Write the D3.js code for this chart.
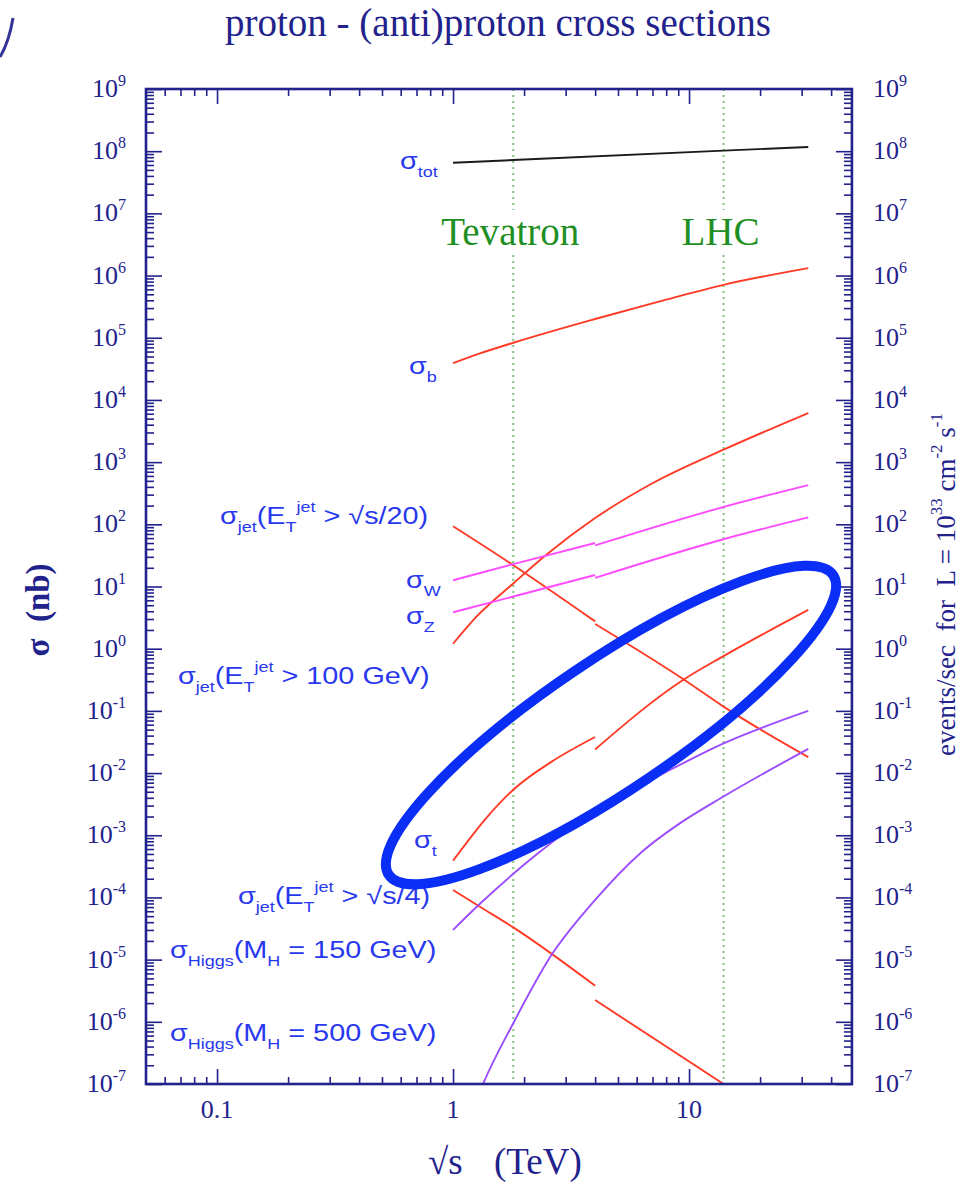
<!DOCTYPE html>
<html>
<head>
<meta charset="utf-8">
<script src="https://cdn.jsdelivr.net/npm/d3@7"></script>
<style>
body { margin: 0; background: #fff; }
svg { display: block; }
</style>
</head>
<body>
<script>
// sqrt(s) in TeV, sigma in nb
var totE = [1, 1.8, 14, 32];
var totSig = [6.5e7, 7.2e7, 1.02e8, 1.17e8];

var bE = [1, 1.3, 1.8, 4, 8, 14, 32];
var bSig = [3.9e4, 5.6e4, 8.3e4, 2.0e5, 4.1e5, 7.1e5, 1.32e6];

var jet20E_ppbar = [1, 1.8, 4];
var jet20Sig_ppbar = [93, 22, 2.75];
var jet20E_pp = [4, 9.5, 14, 32];
var jet20Sig_pp = [2.5, 0.32, 0.117, 0.018];

var jet100E = [1, 1.26, 1.8, 2.5, 4, 7, 14, 32];
var jet100Sig = [1.2, 3.3, 11.2, 33, 126, 457, 1585, 6170];

var wE_ppbar = [1, 1.8, 4];
var wSig_ppbar = [12.6, 22.9, 50];
var wE_pp = [4, 14, 32];
var wSig_pp = [45.7, 190, 427];

var zE_ppbar = [1, 1.8, 4];
var zSig_ppbar = [3.85, 6.9, 15.3];
var zE_pp = [4, 14, 32];
var zSig_pp = [13.8, 57.5, 129];

var tE_ppbar = [1, 1.4, 1.8, 2.6, 4];
var tSig_ppbar = [3.9e-4, 2.0e-3, 5.4e-3, 1.5e-2, 3.8e-2];
var tE_pp = [4, 9.5, 14, 32];
var tSig_pp = [2.4e-2, 0.32, 0.76, 4.2];

var jet4E_ppbar = [1, 1.3, 1.8, 4];
var jet4Sig_ppbar = [1.32e-4, 7.1e-5, 3.3e-5, 3.8e-6];
var jet4E_pp = [4, 14, 32];
var jet4Sig_pp = [2.24e-6, 1.0e-7, 1.26e-8];

var h150E = [1, 1.3, 1.8, 2.27, 4.33, 8.3, 14, 32];
var h150Sig = [3.0e-5, 7.9e-5, 2.4e-4, 5.0e-4, 2.9e-3, 1.12e-2, 3.0e-2, 0.1];

var h500E = [1.2, 1.34, 1.8, 2.58, 4, 6.2, 9.2, 14, 32];
var h500Sig = [3.5e-8, 1e-7, 9.5e-7, 1.1e-5, 9.1e-5, 5.1e-4, 1.58e-3, 4.2e-3, 2.45e-2];

var colliderE = [1.8, 14];
var colliderName = ["Tevatron", "LHC"];

var xTickVals = [0.1, 1, 10];
var xTickLabels = ["0.1", "1", "10"];
var yTickExp = [-7, -6, -5, -4, -3, -2, -1, 0, 1, 2, 3, 4, 5, 6, 7, 8, 9];

var W = 960, H = 1184;
var padL = 146, padT = 89, padB = 1084;
var navy = "#22228c";
var serif = "'Liberation Serif', 'Times New Roman', serif";
var sans = "'Liberation Sans', Arial, sans-serif";

var x = d3.scaleLog().domain([0.05, 49]).range([padL, padL + 236 * Math.log10(49 / 0.05)]);
var y = d3.scaleLog().domain([1e-7, 1e9]).range([padB, padT]);
var padR = x.range()[1];

var svg = d3.select("body").append("svg").attr("width", W).attr("height", H);

svg.append("clipPath").attr("id", "plot")
  .append("rect").attr("x", padL).attr("y", padT)
  .attr("width", padR - padL).attr("height", padB - padT);

// stray bit of annotation at the top-left corner
svg.append("path").attr("d", "M0,57 Q9,42 13,18")
  .attr("fill", "none").attr("stroke", "#33339a").attr("stroke-width", 3);

// title
svg.append("text").attr("x", 498).attr("y", 36).attr("text-anchor", "middle")
  .attr("font-family", serif).attr("font-size", 39).attr("fill", navy)
  .text("proton - (anti)proton cross sections");

// collider lines
colliderE.forEach(function (e, i) {
  var g = svg.append("g").attr("stroke", "#7cc47c").attr("stroke-width", 2)
    .attr("stroke-dasharray", "2,4");
  g.append("line").attr("x1", x(e)).attr("x2", x(e)).attr("y1", padT).attr("y2", 210);
  g.append("line").attr("x1", x(e)).attr("x2", x(e)).attr("y1", 255).attr("y2", padB);
  svg.append("text").attr("x", x(e) - 3).attr("y", 245).attr("text-anchor", "middle")
    .attr("font-family", serif).attr("font-size", 39).attr("fill", "#1f8f24")
    .text(colliderName[i]);
});

// curves
function pts(es, ss) { return es.map(function (e, i) { return [e, ss[i]]; }); }
var series = [
  { d: pts(totE, totSig), c: "#1a1a1a" },
  { d: pts(bE, bSig), c: "#ff3a26" },
  { d: pts(jet20E_ppbar, jet20Sig_ppbar), c: "#ff3a26" },
  { d: pts(jet20E_pp, jet20Sig_pp), c: "#ff3a26" },
  { d: pts(jet100E, jet100Sig), c: "#ff3a26" },
  { d: pts(wE_ppbar, wSig_ppbar), c: "#ff4cff" },
  { d: pts(wE_pp, wSig_pp), c: "#ff4cff" },
  { d: pts(zE_ppbar, zSig_ppbar), c: "#ff4cff" },
  { d: pts(zE_pp, zSig_pp), c: "#ff4cff" },
  { d: pts(tE_ppbar, tSig_ppbar), c: "#ff3a26" },
  { d: pts(tE_pp, tSig_pp), c: "#ff3a26" },
  { d: pts(jet4E_ppbar, jet4Sig_ppbar), c: "#ff3a26" },
  { d: pts(jet4E_pp, jet4Sig_pp), c: "#ff3a26" },
  { d: pts(h150E, h150Sig), c: "#9b4cff" },
  { d: pts(h500E, h500Sig), c: "#9b4cff" }
];
var line = d3.line().x(function (d) { return x(d[0]); }).y(function (d) { return y(d[1]); })
  .curve(d3.curveMonotoneX);
svg.append("g").attr("clip-path", "url(#plot)")
  .selectAll("path").data(series).enter().append("path")
  .attr("d", function (s) { return line(s.d); })
  .attr("fill", "none").attr("stroke", function (s) { return s.c; })
  .attr("stroke-width", 1.9);

// axes: frame + major/minor ticks
var yMajor = yTickExp.map(function (k) { return Math.pow(10, k); });
var yMinor = [];
yTickExp.slice(0, -1).forEach(function (k) {
  for (var m = 2; m < 10; m++) yMinor.push(m * Math.pow(10, k));
});
var xMinor = [0.06, 0.07, 0.08, 0.09, 0.2, 0.3, 0.4, 0.5, 0.6, 0.7, 0.8, 0.9,
  2, 3, 4, 5, 6, 7, 8, 9, 20, 30, 40];

function tickGroup(axis, tf) {
  var g = svg.append("g").attr("transform", tf).call(axis);
  g.select(".domain").remove();
  g.selectAll("line").attr("stroke", navy).attr("stroke-width", 1.6);
  g.selectAll("text").remove();
}
tickGroup(d3.axisLeft(y).tickValues(yMajor).tickSize(-16).tickFormat(""), "translate(" + padL + ",0)");
tickGroup(d3.axisLeft(y).tickValues(yMinor).tickSize(-8).tickFormat(""), "translate(" + padL + ",0)");
tickGroup(d3.axisRight(y).tickValues(yMajor).tickSize(-16).tickFormat(""), "translate(" + padR + ",0)");
tickGroup(d3.axisRight(y).tickValues(yMinor).tickSize(-8).tickFormat(""), "translate(" + padR + ",0)");
tickGroup(d3.axisBottom(x).tickValues(xTickVals).tickSize(-15).tickFormat(""), "translate(0," + padB + ")");
tickGroup(d3.axisBottom(x).tickValues(xMinor).tickSize(-7).tickFormat(""), "translate(0," + padB + ")");
tickGroup(d3.axisTop(x).tickValues(xTickVals).tickSize(-15).tickFormat(""), "translate(0," + padT + ")");
tickGroup(d3.axisTop(x).tickValues(xMinor).tickSize(-7).tickFormat(""), "translate(0," + padT + ")");

svg.append("rect").attr("x", padL).attr("y", padT)
  .attr("width", padR - padL).attr("height", padB - padT)
  .attr("fill", "none").attr("stroke", navy).attr("stroke-width", 2.6);

// rich text helper: parts = [[text, 0 normal | 1 sub | 2 sup], ...]
function rich(parent, parts, size, small, subDy, supDy) {
  var t = parent.append("text");
  var cur = 0;
  parts.forEach(function (p) {
    var target = p[1] === 1 ? subDy : p[1] === 2 ? supDy : 0;
    t.append("tspan").attr("dy", target - cur)
      .attr("font-size", p[1] ? small : size).text(p[0]);
    cur = target;
  });
  return t;
}

// tick labels
yTickExp.forEach(function (k) {
  var ty = y(Math.pow(10, k)) + 8;
  rich(svg, [["10", 0], [String(k), 2]], 26, 16, 0, -11)
    .attr("x", 126).attr("y", ty).attr("text-anchor", "end")
    .attr("font-family", serif).attr("fill", navy);
  rich(svg, [["10", 0], [String(k), 2]], 26, 16, 0, -11)
    .attr("x", 873).attr("y", ty)
    .attr("font-family", serif).attr("fill", navy);
});
xTickVals.forEach(function (v, i) {
  svg.append("text").attr("x", x(v)).attr("y", 1118).attr("text-anchor", "middle")
    .attr("font-family", serif).attr("font-size", 26).attr("fill", navy)
    .text(xTickLabels[i]);
});

// axis titles
svg.append("text").attr("x", 428).attr("y", 1174)
  .attr("font-family", serif).attr("font-size", 37).attr("fill", navy).text("\u221As");
svg.append("text").attr("x", 494).attr("y", 1174)
  .attr("font-family", serif).attr("font-size", 37).attr("fill", navy).text("(TeV)");
svg.append("text").attr("transform", "translate(49,610) rotate(-90)")
  .attr("text-anchor", "middle").attr("font-family", serif).attr("font-size", 33)
  .attr("font-weight", "bold").attr("fill", navy).attr("xml:space", "preserve")
  .text("\u03C3  (nb)");
rich(svg.append("g").attr("transform", "translate(955,756) rotate(-90)"),
  [["events/sec  for  ", 0], ["L = 10", 0], ["33", 2], [" cm", 0], ["-2", 2], [" s", 0], ["-1", 2]],
  27, 17, 0, -13)
  .attr("font-family", serif).attr("fill", navy).attr("xml:space", "preserve");

// curve labels
var blue = "#2838ee";
var jetLbl = function (tail) {
  return [["\u03C3", 0], ["jet", 1], ["(E", 0], ["T", 1], ["jet", 2], [tail, 0]];
};
var labels = [
  { x: 400, y: 169, p: [["\u03C3", 0], ["tot", 1]] },
  { x: 409, y: 374, p: [["\u03C3", 0], ["b", 1]] },
  { x: 220, y: 524, p: jetLbl(" > \u221As/20)") },
  { x: 406, y: 588, p: [["\u03C3", 0], ["W", 1]] },
  { x: 406, y: 624, p: [["\u03C3", 0], ["Z", 1]] },
  { x: 178, y: 684, p: jetLbl(" > 100 GeV)") },
  { x: 414, y: 848, p: [["\u03C3", 0], ["t", 1]] },
  { x: 238, y: 904, p: jetLbl(" > \u221As/4)") },
  { x: 170, y: 958, p: [["\u03C3", 0], ["Higgs", 1], ["(M", 0], ["H", 1], [" = 150 GeV)", 0]] },
  { x: 170, y: 1041, p: [["\u03C3", 0], ["Higgs", 1], ["(M", 0], ["H", 1], [" = 500 GeV)", 0]] }
];
labels.forEach(function (l) {
  var g = svg.append("g").attr("transform", "translate(" + l.x + "," + l.y + ") scale(1.2,1)");
  rich(g, l.p, 24, 15, 8, -12).attr("font-family", sans).attr("fill", blue)
    .attr("xml:space", "preserve");
});

// hand-drawn highlight ellipse
svg.append("ellipse").attr("transform", "translate(611,725) rotate(-34)")
  .attr("rx", 268).attr("ry", 65)
  .attr("fill", "none").attr("stroke", "#0a2ef5").attr("stroke-width", 10);
</script>
</body>
</html>
